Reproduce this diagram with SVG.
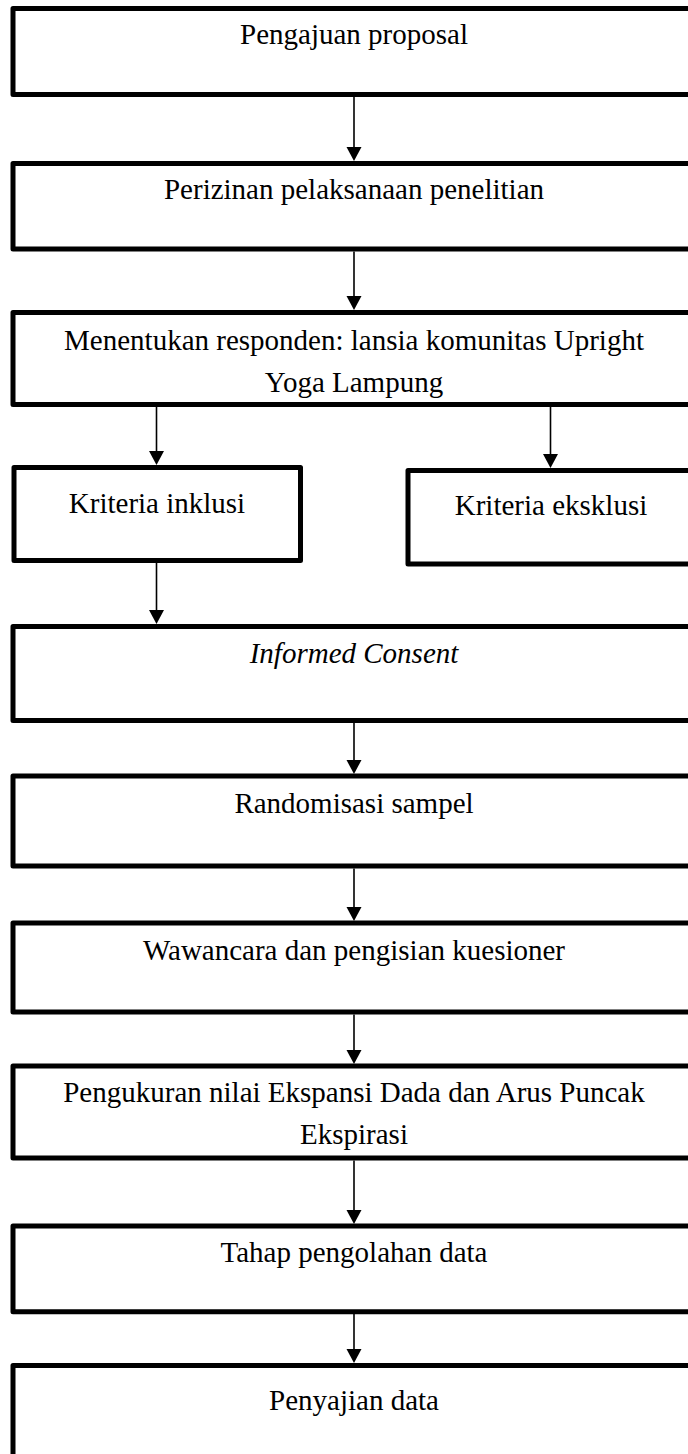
<svg xmlns="http://www.w3.org/2000/svg" width="688" height="1454" viewBox="0 0 688 1454">
<style>
.box{fill:#fff;stroke:#000;stroke-width:5;stroke-linejoin:round}
.t{font-family:"Liberation Serif","Times New Roman",serif;font-size:29px;fill:#000;text-anchor:middle}
.c{stroke:#000;stroke-width:1.6;fill:none}
.h{fill:#000}
</style>
<g id="connectors">
<path class="c" d="M354,97 V147"/>
<polygon class="h" points="346.5,147 361.5,147 354,161"/>
<path class="c" d="M354,251.5 V296"/>
<polygon class="h" points="346.5,296 361.5,296 354,310"/>
<path class="c" d="M156.5,407 V451"/>
<polygon class="h" points="149,451 164,451 156.5,465"/>
<path class="c" d="M550.5,407 V454"/>
<polygon class="h" points="543,454 558,454 550.5,468"/>
<path class="c" d="M156.5,563 V610"/>
<polygon class="h" points="149,610 164,610 156.5,624"/>
<path class="c" d="M354,723 V760"/>
<polygon class="h" points="346.5,760 361.5,760 354,774"/>
<path class="c" d="M354,868.5 V907"/>
<polygon class="h" points="346.5,907 361.5,907 354,921"/>
<path class="c" d="M354,1014.5 V1050"/>
<polygon class="h" points="346.5,1050 361.5,1050 354,1064"/>
<path class="c" d="M354,1160.5 V1210"/>
<polygon class="h" points="346.5,1210 361.5,1210 354,1224"/>
<path class="c" d="M354,1314 V1349"/>
<polygon class="h" points="346.5,1349 361.5,1349 354,1363"/>
</g>
<g id="n1"><rect class="box" x="13" y="8.5" width="700" height="86"/><text class="t" x="354" y="44">Pengajuan proposal</text></g>
<g id="n2"><rect class="box" x="13" y="163.5" width="700" height="85.5"/><text class="t" x="354" y="199">Perizinan pelaksanaan penelitian</text></g>
<g id="n3"><rect class="box" x="13" y="312.5" width="700" height="92"/><text class="t" x="354" y="350">Menentukan responden: lansia komunitas Upright</text><text class="t" x="354" y="392">Yoga Lampung</text></g>
<g id="n4"><rect class="box" x="14" y="467.5" width="286.5" height="93"/><text class="t" x="157" y="513">Kriteria inklusi</text></g>
<g id="n5"><rect class="box" x="408" y="470.5" width="300" height="93.5"/><text class="t" x="551" y="515">Kriteria eksklusi</text></g>
<g id="n6"><rect class="box" x="13" y="626.5" width="700" height="94"/><text class="t" x="354" y="663" font-style="italic">Informed Consent</text></g>
<g id="n7"><rect class="box" x="13" y="776" width="700" height="90"/><text class="t" x="354" y="813">Randomisasi sampel</text></g>
<g id="n8"><rect class="box" x="13" y="923" width="700" height="89"/><text class="t" x="354" y="960">Wawancara dan pengisian kuesioner</text></g>
<g id="n9"><rect class="box" x="13" y="1066" width="700" height="92"/><text class="t" x="354" y="1102">Pengukuran nilai Ekspansi Dada dan Arus Puncak</text><text class="t" x="354" y="1144">Ekspirasi</text></g>
<g id="n10"><rect class="box" x="13" y="1226" width="700" height="85.7"/><text class="t" x="354" y="1262">Tahap pengolahan data</text></g>
<g id="n11"><rect class="box" x="13" y="1365.5" width="700" height="100"/><text class="t" x="354" y="1410">Penyajian data</text></g>
</svg>
